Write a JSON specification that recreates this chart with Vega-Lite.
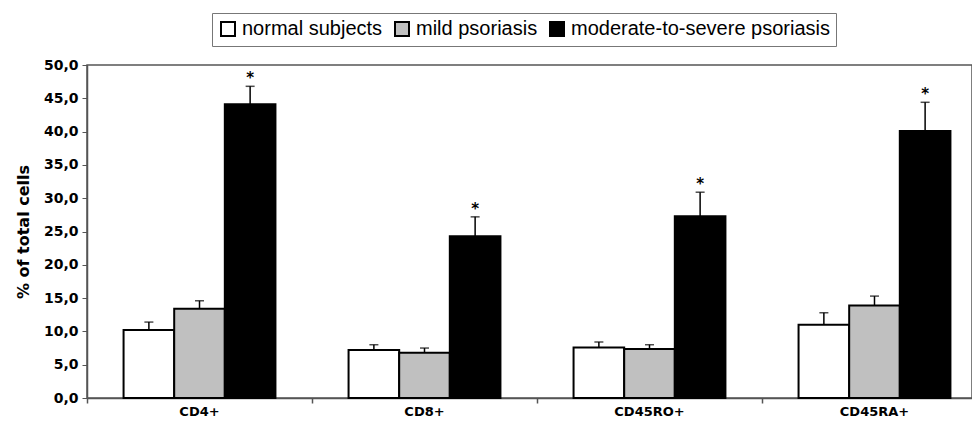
{
  "$schema": "https://vega.github.io/schema/vega-lite/v6.json",
  "width": 885,
  "height": 333,
  "autosize": {"type": "none"},
  "padding": {"left": 87, "top": 65, "right": 0, "bottom": 27},
  "background": "white",
  "config": {
    "view": {"stroke": "#555555", "strokeWidth": 1.5},
    "font": "DejaVu Sans",
    "axisY": {
      "titleFont": "DejaVu Sans", "titleFontSize": 16,
      "titleFontWeight": "bold", "titleColor": "black", "titlePadding": 12,
      "values": [0, 5, 10, 15, 20, 25, 30, 35, 40, 45, 50],
      "labelExpr": "replace(format(datum.value, '.1f'), '.', ',')",
      "labelFont": "DejaVu Sans", "labelFontWeight": "bold", "labelFontSize": 14,
      "labelColor": "black", "tickColor": "#555555", "tickSize": 5, "labelPadding": 4,
      "domainColor": "#555555", "domainWidth": 1.5, "grid": false
    }
  },
  "data": {
    "values": [
      {"marker": "CD4+", "group": "normal subjects", "value": 10.2, "err": 11.4, "star": ""},
      {"marker": "CD4+", "group": "mild psoriasis", "value": 13.4, "err": 14.6, "star": ""},
      {"marker": "CD4+", "group": "moderate-to-severe psoriasis", "value": 44.1, "err": 46.8, "star": "*"},
      {"marker": "CD8+", "group": "normal subjects", "value": 7.2, "err": 8.0, "star": ""},
      {"marker": "CD8+", "group": "mild psoriasis", "value": 6.8, "err": 7.5, "star": ""},
      {"marker": "CD8+", "group": "moderate-to-severe psoriasis", "value": 24.3, "err": 27.2, "star": "*"},
      {"marker": "CD45RO+", "group": "normal subjects", "value": 7.6, "err": 8.4, "star": ""},
      {"marker": "CD45RO+", "group": "mild psoriasis", "value": 7.35, "err": 8.0, "star": ""},
      {"marker": "CD45RO+", "group": "moderate-to-severe psoriasis", "value": 27.3, "err": 30.9, "star": "*"},
      {"marker": "CD45RA+", "group": "normal subjects", "value": 11.0, "err": 12.8, "star": ""},
      {"marker": "CD45RA+", "group": "mild psoriasis", "value": 13.9, "err": 15.3, "star": ""},
      {"marker": "CD45RA+", "group": "moderate-to-severe psoriasis", "value": 40.1, "err": 44.4, "star": "*"}
    ]
  },
  "resolve": {"axis": {"x": "independent"}},
  "layer": [
    {
      "mark": {"type": "bar", "stroke": "black", "strokeWidth": 2},
      "encoding": {
        "x": {
          "field": "marker", "type": "nominal",
          "sort": ["CD4+", "CD8+", "CD45RO+", "CD45RA+"],
          "scale": {"paddingInner": 0.325, "paddingOuter": 0.1292, "align": 0.629},
          "axis": {
            "orient": "bottom", "title": null, "ticks": false, "labelAngle": 0,
            "labelFont": "DejaVu Sans", "labelFontWeight": "bold", "labelFontSize": 13,
            "labelColor": "black", "labelPadding": 7,
            "domainColor": "#555555", "domainWidth": 1.5, "grid": false
          }
        },
        "xOffset": {
          "field": "group", "type": "nominal",
          "sort": ["normal subjects", "mild psoriasis", "moderate-to-severe psoriasis"],
          "scale": {"paddingInner": 0, "paddingOuter": 0}
        },
        "y": {
          "field": "value", "type": "quantitative",
          "scale": {"domain": [0, 50], "nice": false},
          "title": "% of total cells"
        },
        "fill": {
          "field": "group", "type": "nominal",
          "scale": {
            "domain": ["normal subjects", "mild psoriasis", "moderate-to-severe psoriasis"],
            "range": ["#ffffff", "#c0c0c0", "#000000"]
          },
          "legend": {
            "orient": "none", "legendX": 125, "legendY": -52, "direction": "horizontal",
            "title": null, "symbolType": "square", "symbolSize": 196,
            "symbolStrokeColor": "black", "symbolStrokeWidth": 2, "symbolOpacity": 1,
            "labelFont": "Liberation Sans", "labelFontSize": 20, "labelColor": "black",
            "labelLimit": 0,
            "strokeColor": "#777777", "padding": 6, "columnPadding": 8, "labelOffset": 4
          }
        }
      }
    },
    {
      "mark": {"type": "rule", "color": "black", "strokeWidth": 1.5},
      "encoding": {
        "x": {
          "field": "marker", "type": "nominal",
          "sort": ["CD4+", "CD8+", "CD45RO+", "CD45RA+"],
          "axis": {
            "orient": "bottom", "title": null, "labels": false, "domain": false,
            "ticks": true, "tickSize": 5, "tickColor": "#555555", "tickWidth": 1.5,
            "bandPosition": -0.2407, "grid": false
          }
        },
        "xOffset": {
          "field": "group", "type": "nominal",
          "sort": ["normal subjects", "mild psoriasis", "moderate-to-severe psoriasis"]
        },
        "y": {"field": "value", "type": "quantitative", "title": "% of total cells"},
        "y2": {"field": "err"}
      }
    },
    {
      "mark": {"type": "tick", "color": "black", "thickness": 1.5, "size": 9, "orient": "horizontal"},
      "encoding": {
        "x": {"field": "marker", "type": "nominal", "sort": ["CD4+", "CD8+", "CD45RO+", "CD45RA+"], "axis": null},
        "xOffset": {
          "field": "group", "type": "nominal",
          "sort": ["normal subjects", "mild psoriasis", "moderate-to-severe psoriasis"]
        },
        "y": {"field": "err", "type": "quantitative", "title": "% of total cells"}
      }
    },
    {
      "transform": [{"filter": "datum.star != ''"}],
      "mark": {"type": "text", "fontSize": 15, "fontWeight": "bold", "baseline": "alphabetic", "dy": -3, "color": "black"},
      "encoding": {
        "x": {"field": "marker", "type": "nominal", "sort": ["CD4+", "CD8+", "CD45RO+", "CD45RA+"], "axis": null},
        "xOffset": {
          "field": "group", "type": "nominal",
          "sort": ["normal subjects", "mild psoriasis", "moderate-to-severe psoriasis"]
        },
        "y": {"field": "err", "type": "quantitative", "title": "% of total cells"},
        "text": {"field": "star"}
      }
    }
  ]
}
